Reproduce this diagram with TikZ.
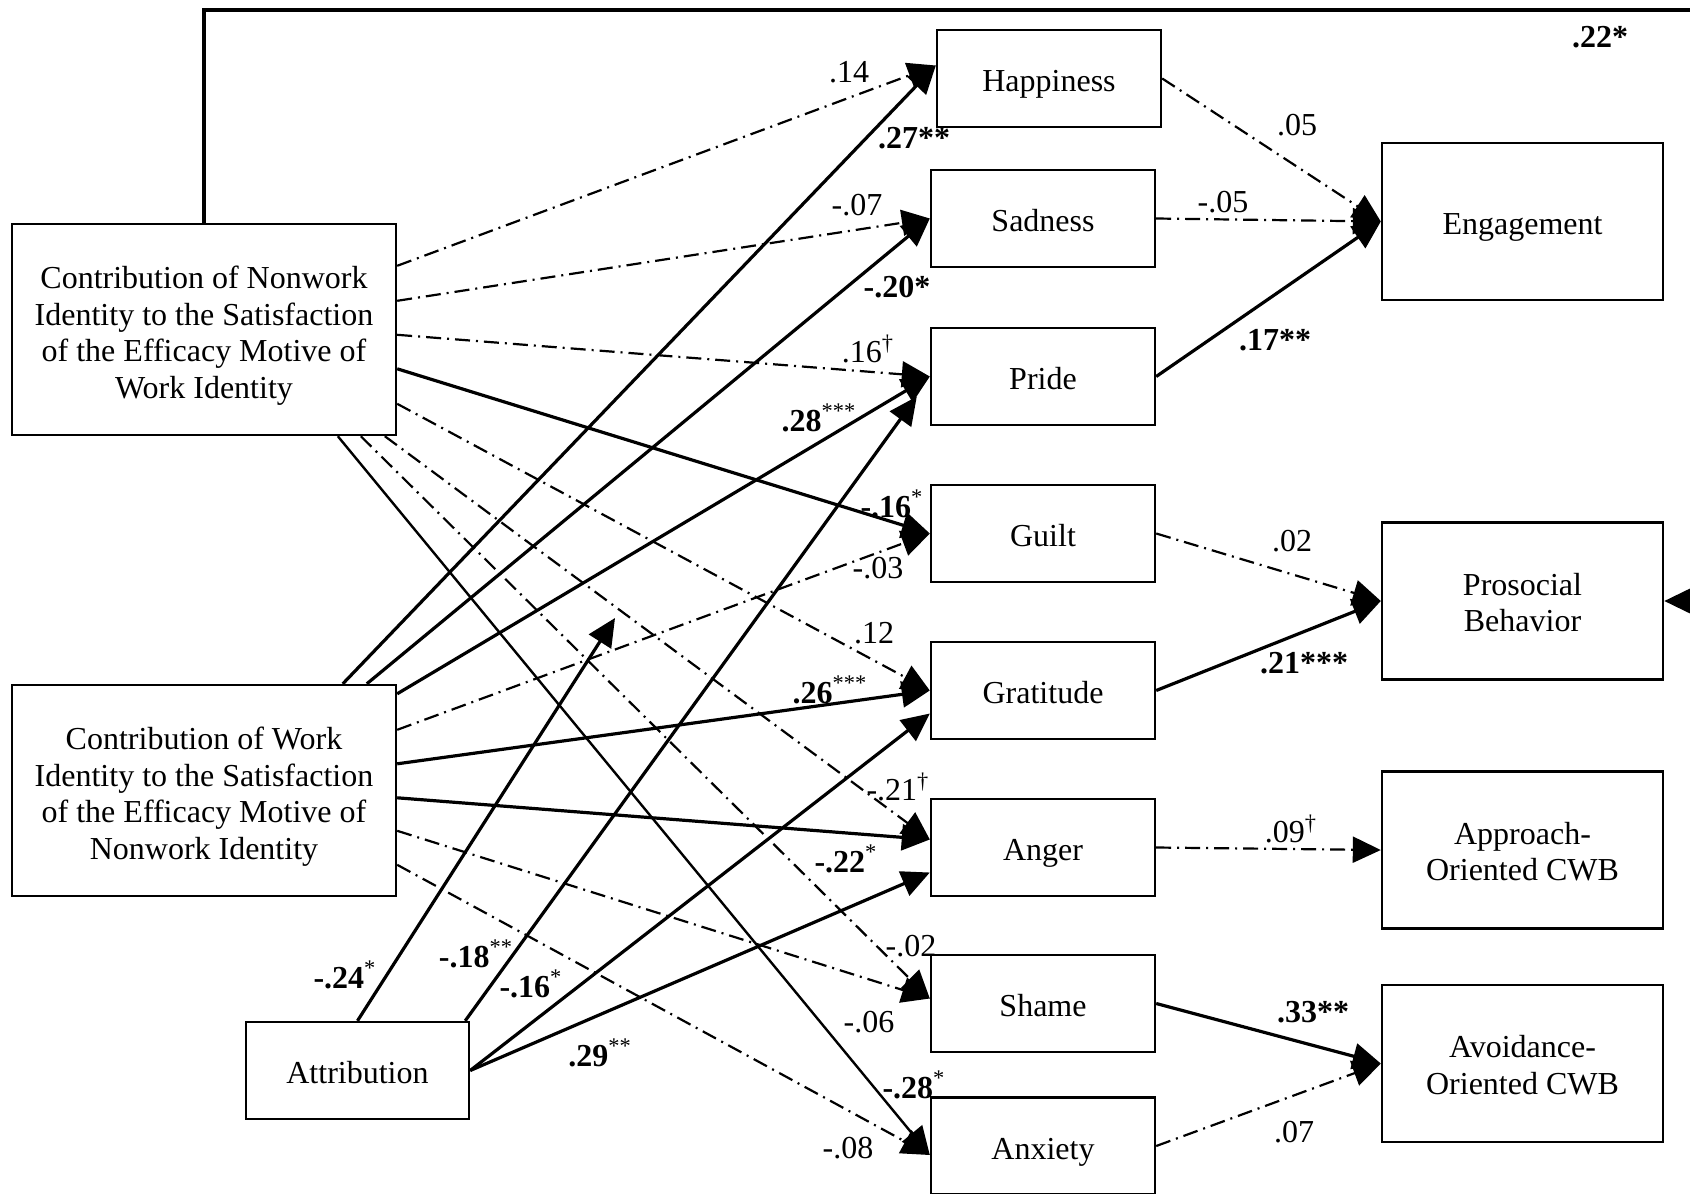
\documentclass[tikz,border=0pt]{standalone}
\usepackage{fontspec}
\setmainfont{Liberation Serif}
\usetikzlibrary{arrows.meta,calc}

% multi-line box text, lowered slightly without changing its reported size
\newcommand\boxlines[2]{\raisebox{-#1}[\height][\depth]{\begin{tabular}{@{}c@{}}#2\end{tabular}}}

\begin{document}
\begin{tikzpicture}[x=0.5pt,y=-0.5pt,
  txt/.style={font=\fontsize{16}{18.3}\selectfont},
  box/.style={txt,draw,line width=1.2pt,inner sep=0pt,align=center},
  oneline/.style={text height=14pt,text depth=0.6pt},
  bigbox/.style={box,minimum width=192pt,minimum height=105.5pt},
  emo/.style={box,oneline,minimum width=112pt,minimum height=48.5pt},
  outc/.style={box,minimum width=140.5pt,minimum height=78.5pt},
  tip/.style={-{Triangle[length=14pt,width=13pt]}},
  sig/.style={tip,line width=1.6pt},
  thinsig/.style={tip,line width=1.2pt},
  ns/.style={tip,line width=1.1pt,dash pattern=on 7.5pt off 3pt on 1pt off 3pt},
  lab/.style={txt,inner sep=0pt}
]
\useasboundingbox (0,0) rectangle (1690,1193);

% predictors
\node[bigbox] (N) at (204,329.5) {\boxlines{3.3pt}{Contribution of Nonwork\\Identity to the Satisfaction\\of the Efficacy Motive of\\Work Identity}};
\node[bigbox] (W) at (204,790.5) {\boxlines{3.3pt}{Contribution of Work\\Identity to the Satisfaction\\of the Efficacy Motive of\\Nonwork Identity}};
\node[emo,minimum width=111.5pt] (A) at (357.5,1070.5) {Attribution};

% emotions
\node[emo] (H)  at (1049,78.5)  {Happiness};
\node[emo] (S)  at (1043,218.5) {Sadness};
\node[emo] (Pr) at (1043,376.5) {Pride};
\node[emo] (G)  at (1043,533.5) {Guilt};
\node[emo] (Gr) at (1043,690.5) {Gratitude};
\node[emo] (An) at (1043,847.5) {Anger};
\node[emo] (Sh) at (1043,1003.5) {Shame};
\node[emo] (Ax) at (1043,1146) {Anxiety};

% outcomes
\node[outc,oneline] (E)  at (1522.5,221.5) {Engagement};
\node[outc] (P)  at (1522.5,601)   {\boxlines{2.6pt}{Prosocial\\Behavior}};
\node[outc] (Ap) at (1522.5,850)   {\boxlines{2.6pt}{Approach-\\Oriented CWB}};
\node[outc] (Av) at (1522.5,1063.5) {\boxlines{2.6pt}{Avoidance-\\Oriented CWB}};

% end point of the moderation arrow
\coordinate (mod) at (615,618);
\coordinate (top) at (1720,10);

% paths from the nonwork predictor
\draw[ns]  ($(N.north east)+(0,43)$)  -- ($(H.west)+(0,-13)$);
\draw[ns]  ($(N.north east)+(0,78)$)  -- (S.west);
\draw[ns]  ($(N.north east)+(0,112)$) -- (Pr.west);
\draw[sig] ($(N.north east)+(0,146)$) -- (G.west);
\draw[ns]  ($(N.north east)+(0,181)$) -- (Gr.west);
\draw[ns]  ($(N.south west)+(374,0)$) -- ($(An.west)+(0,-8)$);
\draw[ns]  ($(N.south west)+(350,0)$) -- ($(Sh.west)+(0,-5)$);
\draw[thinsig] ($(N.south west)+(327,0)$) -- ($(Ax.west)+(0,9)$);

% paths from the work predictor
\draw[sig] ($(W.north west)+(332,0)$) -- ($(H.west)+(0,-13)$);
\draw[sig] ($(W.north west)+(356,0)$) -- (S.west);
\draw[sig] ($(W.north east)+(0,10)$)  -- (Pr.west);
\draw[ns]  ($(W.north east)+(0,46)$)  -- (G.west);
\draw[sig] ($(W.north east)+(0,80)$)  -- (Gr.west);
\draw[sig] ($(W.north east)+(0,114)$) -- ($(An.west)+(0,-8)$);
\draw[ns]  ($(W.north east)+(0,147)$) -- ($(Sh.west)+(0,-5)$);
\draw[ns]  ($(W.north east)+(0,181)$) -- ($(Ax.west)+(0,9)$);

% paths from attribution
\draw[sig] (A.north) -- (mod);
\draw[sig] ($(A.north east)+(-5,0)$) -- ($(Pr.west)+(-13,20)$);
\draw[sig] (A.east) -- ($(Gr.west)+(0,23)$);
\draw[sig] (A.east) -- ($(An.west)+(0,25)$);

% emotions to outcomes
\draw[ns]  (H.east)  -- (E.west);
\draw[ns]  (S.east)  -- (E.west);
\draw[sig] (Pr.east) -- (E.west);
\draw[ns]  (G.east)  -- (P.west);
\draw[sig] (Gr.east) -- (P.west);
\draw[ns]  (An.east) -- (Ap.west);
\draw[sig] (Sh.east) -- (Av.west);
\draw[ns]  (Ax.east) -- (Av.west);

% direct path to prosocial behavior
\draw[tip,line width=2pt] (N.north) -- (N.north |- top) -- (top) |- (P.east);

% coefficients
\node[lab] (l1)  at (849,72)   {.14};
\node[lab] (l2)  at (914,138)  {\textbf{.27**}};
\node[lab] (l3)  at (857,205)  {-.07};
\node[lab] (l4)  at (897,287)  {\textbf{-.20*}};
\node[lab] (l5)  at (868,349)  {.16\textsuperscript{†}};
\node[lab] (l6)  at (819,418)  {\textbf{.28}\textsuperscript{***}};
\node[lab] (l7)  at (892,504)  {\textbf{-.16}\textsuperscript{*}};
\node[lab] (l8)  at (878,568)  {-.03};
\node[lab] (l9)  at (874,633)  {.12};
\node[lab] (l10) at (830,690)  {\textbf{.26}\textsuperscript{***}};
\node[lab] (l11) at (898,787)  {-.21\textsuperscript{†}};
\node[lab] (l12) at (846,859)  {\textbf{-.22}\textsuperscript{*}};
\node[lab] (l13) at (911,946)  {-.02};
\node[lab] (l14) at (869,1022) {-.06};
\node[lab] (l15) at (914,1085) {\textbf{-.28}\textsuperscript{*}};
\node[lab] (l16) at (848,1148) {-.08};
\node[lab] (l17) at (345,975)  {\textbf{-.24}\textsuperscript{*}};
\node[lab] (l18) at (476,954)  {\textbf{-.18}\textsuperscript{**}};
\node[lab] (l19) at (531,984)  {\textbf{-.16}\textsuperscript{*}};
\node[lab] (l20) at (600,1053) {\textbf{.29}\textsuperscript{**}};
\node[lab] (l21) at (1297,125) {.05};
\node[lab] (l22) at (1223,202) {-.05};
\node[lab] (l23) at (1275,340) {\textbf{.17**}};
\node[lab] (l24) at (1292,541) {.02};
\node[lab] (l25) at (1304,663) {\textbf{.21***}};
\node[lab] (l26) at (1291,829) {.09\textsuperscript{†}};
\node[lab] (l27) at (1313,1012) {\textbf{.33**}};
\node[lab] (l28) at (1294,1132) {.07};
\node[lab] (l29) at (1600,37)  {\textbf{.22*}};
\end{tikzpicture}
\end{document}
